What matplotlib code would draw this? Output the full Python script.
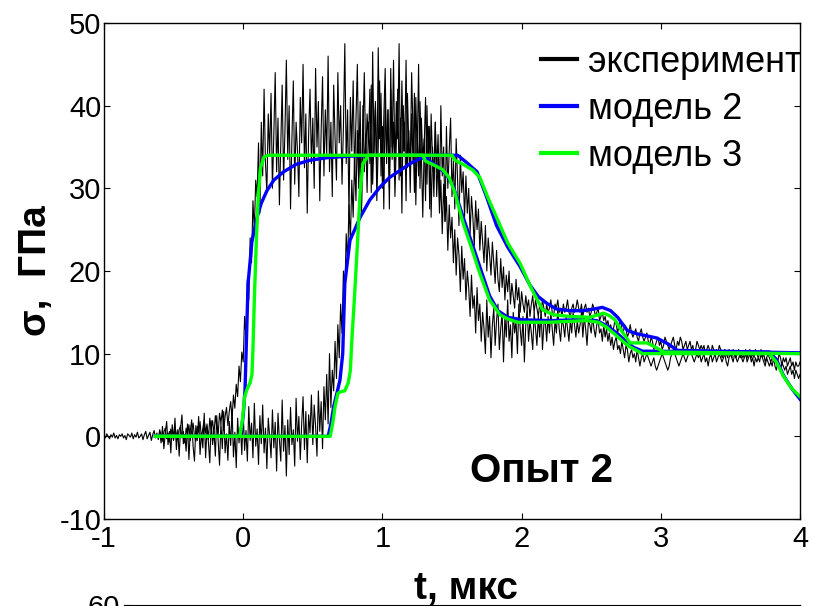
import numpy as np
import matplotlib.pyplot as plt

# ---- experiment (black), sampled every 0.01 us ----
dt = 0.01
exp1_start = -1.0
exp1 = [0.1, -0.2, 0.3, 0.0, -0.3, 0.2, -0.1, 0.4, -0.2, 0.1,
        -0.3, 0.2, 0.0, 0.3, -0.2, 0.1, -0.4, 0.3, 0.1, -0.1,
        0.4, -0.3, 0.2, -0.1, 0.5, -0.2, 0.0, 0.3, -0.4, 0.2,
        0.6, -0.3, 0.1, 0.5, -0.5, 0.2, 0.7, -0.2, 0.4, -0.4,
        0.8, 0.1, -0.6, 0.5, 1.0, -0.3, 0.4, -0.7, 0.9, 0.2,
        -0.5, 1.1, 0.3, -0.4, 0.8, 1.3, -0.2, 0.6, -0.8, 1.0,
        0.2, 1.4, -0.5, 0.7, 1.6, 0.0, -0.6, 1.2, 0.5, 1.8,
        -0.3, 1.0, 2.0, 0.4, 1.5, -0.4, 2.2, 0.8, 1.9, 0.3,
        2.5, 1.1, 0.2, 2.8, 1.6, 3.2, 0.7, 2.4, 3.5, 1.3,
        3.0, 4.2, 2.1, 5.0, 3.4, 6.3, 4.8, 8.5, 6.6, 10.2,
        9.0, 14.5, 12.0, 19.0, 16.5, 24.0, 21.0, 28.5, 25.0, 31.0,
        29.0, 35.5, 27.0, 38.0, 31.5, 42.0, 33.0, 29.5, 39.0, 34.0,
        41.5, 30.0, 36.5, 44.0, 32.0, 38.5, 28.0, 35.0, 42.5, 31.0,
        37.0, 45.5, 33.5, 40.0, 27.5, 36.0, 43.0, 30.5, 38.0, 34.5,
        29.0, 41.0, 35.5, 45.0, 32.5, 39.0, 27.0, 36.5, 42.0, 33.0,
        38.5, 30.0, 44.5, 35.0, 40.5, 28.5, 37.0, 43.5, 31.5, 39.5,
        34.0, 46.0, 32.0, 38.0, 29.0, 42.5, 36.0, 31.0, 44.0, 35.5,
        40.0, 30.5, 37.5, 47.5, 33.0, 39.5, 26.5, 41.0, 34.5, 43.0,
        31.5, 38.0, 45.0, 32.5, 40.5, 28.0, 36.5, 44.0, 33.5, 39.0,
        35.5, 42.0, 29.5, 46.5, 34.0, 40.0, 31.0, 47.0, 36.0, 41.5,
        30.0, 38.5, 44.5, 33.0, 39.5, 27.5, 42.0, 35.0, 45.5, 32.0,
        40.5, 36.0, 47.5, 31.5, 43.0, 34.5, 38.0, 28.5, 41.5, 35.0,
        32.5, 44.0, 37.0, 29.5, 41.0, 34.0, 45.0, 30.0, 38.5, 33.5,
        36.0, 28.5, 40.0, 33.0, 37.5, 26.5, 35.0, 31.0, 38.0, 29.0,
        33.5, 27.0, 31.0, 24.5, 30.5, 26.0, 29.0, 22.5, 28.0, 24.0,
        26.5, 21.0, 25.0, 19.5, 24.0, 22.0, 17.5, 23.0, 19.0, 21.5,
        16.5, 20.0, 18.0, 14.5, 19.5, 15.5, 17.0, 12.5, 18.0, 14.0,
        16.0, 11.5, 15.0, 13.0, 10.0, 16.5, 12.0, 14.5, 9.5, 13.5,
        15.5, 11.0, 14.0, 16.0, 10.5, 13.0, 15.0, 9.0, 14.5, 12.0,
        16.5, 11.5, 13.5, 9.5, 15.0, 12.5, 14.0, 10.0, 16.0, 13.0,
        11.0, 14.5, 9.0, 13.5, 15.5, 11.5, 14.0, 12.5, 10.5, 15.0,
        13.0, 11.0, 14.5, 12.0, 15.5, 10.5, 13.5, 14.0, 11.5, 14.5,
        12.5, 15.0, 13.0, 11.0, 14.0, 12.5, 15.5, 13.0, 11.5, 14.0,
        13.5, 12.0, 14.5, 13.0, 11.5, 14.0, 12.5, 15.0, 13.5, 12.0,
        14.0, 12.5, 13.5, 15.0, 12.0, 14.5, 13.0, 11.0, 14.0, 13.5,
        12.5, 14.5, 13.0, 12.0, 13.5, 14.0, 12.5, 13.0, 11.5, 13.5,
        12.0, 13.0, 11.5, 12.5, 11.0, 12.0, 10.5, 11.5, 12.0, 10.5,
        11.0, 10.0, 11.5, 10.5, 9.5, 11.0, 10.5, 9.0, 10.0, 10.5,
        9.5, 10.0, 9.0, 10.5, 9.5, 8.5, 9.5, 10.0, 9.0, 9.5,
        10.0, 9.5, 9.0, 8.5, 9.0, 9.5, 8.5, 8.0, 8.5, 9.0,
        9.5, 10.0, 9.5, 9.0, 8.5, 8.0, 8.5, 9.5, 10.0, 10.5,
        10.0, 9.5, 9.0, 8.5, 9.0, 9.5, 10.0, 9.5, 9.0, 9.5,
        10.0, 10.5, 10.0, 9.5, 9.0, 9.5, 10.0, 9.5, 10.0, 9.0,
        9.5, 10.0, 9.0, 9.5, 8.5, 9.5, 10.0, 9.0, 9.5, 10.0,
        9.0, 9.5, 10.0, 9.5, 9.0, 9.5, 10.0, 9.0, 8.5, 9.5,
        10.0, 9.5, 9.0, 10.0, 9.5, 9.0, 9.5, 10.0, 9.5, 9.0,
        9.5, 10.0, 9.0, 9.5, 10.0, 9.0, 9.5, 8.5, 9.5, 9.0,
        9.5, 9.0, 10.0, 9.5, 9.0, 8.5, 9.5, 9.0, 8.5, 9.0,
        8.5, 9.5, 8.5, 8.0, 9.0, 8.5, 8.0, 9.0, 8.5, 8.0,
        8.5, 7.5, 8.0, 8.5, 7.5, 8.0, 7.0, 8.0, 7.5, 7.0,
        7.5]

exp2_start = -0.6
exp2 = [0.5, -0.8, 1.2, -1.5, 0.3, 1.8, -1.0, 0.6, -2.0, 1.4,
        -0.4, 2.2, -1.6, 0.8, -2.4, 1.0, 2.6, -0.9, 0.2, -1.8,
        1.5, -2.8, 0.7, 2.0, -1.2, -3.0, 1.3, -0.5, 2.4, -2.2,
        0.4, -1.4, 2.8, -2.6, 1.1, -0.7, -3.2, 1.9, -1.0, 0.6,
        -2.4, 2.5, -0.6, -3.5, 1.6, -1.5, 3.0, -2.0, 0.3, -2.9,
        1.8, -1.1, 3.3, -2.5, 0.5, -3.8, 2.2, -0.8, 1.2, -2.2,
        2.9, -1.7, 0.7, -3.0, 3.6, -0.5, 1.6, -2.6, 4.0, -1.2,
        0.9, -3.4, 2.5, -0.9, 3.8, -2.0, 1.0, -3.9, 2.2, 0.0,
        -2.6, 3.2, -1.4, 1.7, -4.2, 2.8, -0.4, -3.0, 4.4, -1.8,
        1.3, -4.8, 2.0, -2.2, 3.5, -1.0, 0.8, -3.6, 4.6, -0.6,
        2.4, -2.8, 1.5, 4.8, -1.6, 3.0, -3.2, 2.6, 0.4, 5.0,
        -1.0, 3.8, 1.2, -2.4, 5.5, 0.6, 4.2, -1.5, 6.0, 2.0,
        7.5, 1.5, 10.0, 3.5, 8.0, 5.5, 11.5, 7.0, 13.5, 9.5,
        16.0, 12.5, 20.0, 17.0, 24.5, 21.0, 28.0, 23.5, 31.0, 26.5,
        33.5, 28.5, 37.0, 30.0, 35.5, 27.0, 40.0, 32.0, 36.5, 29.5,
        38.0, 33.0, 42.5, 30.5, 36.0, 40.5, 28.5, 35.0, 43.0, 31.5,
        37.5, 27.5, 41.0, 34.0, 39.5, 30.0, 44.5, 33.5, 38.0, 29.0,
        35.5, 42.0, 31.0, 38.5, 27.0, 40.0, 34.5, 45.5, 32.5, 37.0,
        29.5, 39.0, 33.0, 41.5, 28.0, 36.5, 31.5, 40.5, 34.0, 26.5,
        35.0, 41.0, 30.5, 37.5, 27.5, 39.0, 33.5, 29.0, 38.0, 32.0,
        36.5, 28.5, 40.0, 31.5, 35.0, 26.0, 37.5, 30.0, 34.5, 38.5,
        29.0, 33.5, 27.5, 36.0, 31.0, 25.5, 34.0, 29.5, 32.0, 26.5,
        31.5, 27.0, 30.0, 24.5, 29.0, 26.5, 23.0, 28.5, 25.0, 27.5,
        22.5, 26.0, 23.5, 21.0, 25.5, 20.0, 24.0, 22.0, 19.5, 23.5,
        21.0, 18.5, 22.5, 19.0, 17.5, 21.5, 18.0, 20.5, 16.5, 19.5,
        17.5, 20.0, 16.0, 18.5, 17.0, 15.5, 19.0, 16.5, 18.0, 15.0,
        17.5, 16.0, 15.0, 17.0, 15.5, 16.5, 14.5, 16.0, 17.0, 15.0,
        16.5, 15.5, 14.5, 16.0, 15.0, 16.5, 15.5, 14.5, 16.0, 15.0,
        15.5, 16.5, 15.0, 14.5, 16.0, 15.5, 16.5, 15.0, 15.5, 14.5,
        16.0, 15.0, 15.5, 16.5, 15.0, 14.5, 15.5, 16.0, 15.0, 15.5,
        16.5, 15.5, 15.0, 16.0, 14.5, 15.5, 16.0, 15.0, 15.5, 14.5,
        15.0, 16.0, 15.5, 14.5, 15.0, 15.5, 14.0, 14.5, 15.0, 14.0,
        14.5, 13.5, 14.0, 13.0, 13.5, 12.5, 13.0, 14.0, 13.5, 12.5,
        13.5, 14.0, 13.0, 12.5, 13.5, 13.0, 12.0, 12.5, 13.5, 12.5,
        12.0, 12.5, 13.0, 12.0, 11.5, 12.5, 13.0, 12.0, 11.5, 12.0,
        12.5, 11.5, 11.0, 12.0, 11.5, 10.5, 11.0, 11.5, 12.0, 11.0,
        11.5, 10.5, 11.0, 12.0, 11.5, 11.0, 10.5, 11.0, 11.5, 12.0,
        11.0, 10.5, 11.5, 11.0, 12.0, 11.5, 10.5, 11.0, 11.5, 10.5,
        11.0, 11.5, 10.5, 11.0, 10.0, 10.5, 11.5, 11.0, 10.5, 11.0,
        10.5, 11.0, 10.0, 10.5, 11.0, 10.5, 10.0, 11.0, 10.5, 10.0,
        10.5, 10.0, 11.0, 10.5, 9.5, 10.0, 10.5, 10.0, 9.5, 10.5,
        10.0, 9.5, 10.5, 10.0, 9.5, 10.0, 10.5, 9.5, 10.0, 9.5,
        10.0, 10.5, 9.5, 10.0, 10.5, 9.5, 10.0, 9.5, 10.5, 10.0,
        9.5, 10.0, 10.5, 9.5, 10.0, 9.0, 9.5, 10.0, 9.5, 9.0,
        9.5, 10.0, 9.0, 9.5, 9.0, 10.0, 9.5, 8.5, 9.5, 9.0,
        9.5, 8.5, 9.0, 9.5, 8.5, 9.0, 8.0, 9.0, 8.5, 8.5,
        9.0]

# ---- model 2 (blue) ----
m2a_t = [-0.63, -0.02, 0.0, 0.013, 0.035, 0.063, 0.098, 0.13, 0.17, 0.22, 0.29, 0.38,
         0.48, 0.6, 0.77, 1.0, 1.29, 1.33, 1.40, 1.46, 1.51, 1.58, 1.65, 1.70, 1.77,
         1.83, 1.9, 2.0, 2.2, 2.4, 2.54, 2.62, 2.69, 2.75, 2.8, 2.87, 3.78, 3.83,
         3.88, 3.94, 4.0]
m2a_s = [0, 0, 2.5, 5.6, 18.5, 23.6, 26.4, 28.2, 29.7, 31.0, 32.0, 32.9,
         33.4, 33.7, 33.9, 34.0, 34.0, 33.4, 32.6, 31.7, 30.2, 26.5, 23.0, 20.5, 17.0,
         15.2, 14.4, 14.1, 14.0, 14.1, 14.0, 13.3, 12.4, 11.5, 10.8, 10.3, 10.2, 9.3,
         7.4, 5.8, 4.5]
m2b_t = [-0.63, 0.61, 0.63, 0.65, 0.67, 0.695, 0.715, 0.73, 0.767, 0.84, 0.91, 0.98,
         1.05, 1.13, 1.2, 1.27, 1.35, 1.54, 1.6, 1.68, 1.75, 1.82, 1.9, 1.99, 2.06,
         2.12, 2.18, 2.25, 2.35, 2.44, 2.52, 2.58, 2.64, 2.69, 2.76, 2.83, 2.97,
         3.05, 3.12, 4.0]
m2b_s = [0, 0, 1.5, 3.6, 5.0, 6.8, 10.0, 18.5, 23.7, 26.5, 28.6, 30.1,
         31.3, 32.2, 33.0, 33.6, 34.0, 34.0, 33.2, 32.0, 28.9, 25.5, 22.9, 20.5, 18.3,
         16.9, 16.1, 15.4, 15.2, 15.2, 15.4, 15.6, 15.2, 14.4, 12.8, 12.4, 11.9,
         11.2, 10.4, 10.1]

# ---- model 3 (green) ----
m3a_t = [-0.63, -0.025, -0.005, 0.01, 0.03, 0.05, 0.063, 0.07, 0.08, 0.095, 0.11,
         0.125, 0.15, 0.18, 1.29, 1.31, 1.36, 1.43, 1.48, 1.52, 1.58, 1.65, 1.70,
         1.77, 1.845, 1.9, 1.97, 2.2, 2.47, 2.55, 2.61, 2.68, 2.74, 2.78, 2.87, 3.78,
         3.83, 3.88, 3.94, 4.0]
m3a_s = [0, 0, 2.0, 4.8, 5.8, 6.5, 7.5, 10.5, 16.5, 24.0, 29.5,
         32.5, 33.8, 34.0, 34.0, 33.3, 32.9, 32.3, 31.3, 29.5, 25.8, 22.3, 19.7,
         16.5, 14.7, 14.2, 13.8, 13.8, 14.0, 13.8, 13.2, 12.2, 11.3, 10.8, 10.0, 10.0,
         9.0, 7.3, 5.8, 4.8]
m3b_t = [-0.63, 0.625, 0.645, 0.66, 0.68, 0.70, 0.73, 0.755, 0.77, 0.78, 0.80, 0.82,
         0.84, 0.86, 0.9, 1.5, 1.52, 1.58, 1.65, 1.70, 1.76, 1.82, 1.9, 1.99, 2.07,
         2.15, 2.23, 2.35, 2.49, 2.55, 2.59, 2.63, 2.67, 2.72, 2.78, 2.9, 2.96, 3.02,
         4.0]
m3b_s = [0, 0, 1.8, 3.6, 5.2, 5.4, 5.5, 6.5, 8.0, 11.5, 17.0, 23.0,
         29.5, 33.0, 34.0, 34.0, 33.4, 32.9, 32.2, 31.3, 28.8, 26.5, 23.4, 20.9, 17.9,
         15.3, 14.7, 14.5, 14.4, 14.7, 14.9, 14.6, 14.1, 12.7, 11.3, 11.3, 10.8, 10.2,
         10.0]

labels = ['эксперимент', 'модель 2', 'модель 3']
x_ticks = [-1, 0, 1, 2, 3, 4]
y_ticks = [-10, 0, 10, 20, 30, 40, 50]

plt.rcParams['font.family'] = ['Liberation Sans', 'DejaVu Sans']
plt.rcParams['axes.unicode_minus'] = False  # plain hyphen like the original

W, H = 813, 606
fig = plt.figure(figsize=(W / 100, H / 100), dpi=100)
ax = fig.add_axes([104 / W, 1 - 519 / H, 696 / W, 496 / H])

t1 = exp1_start + dt * np.arange(len(exp1))
t2 = exp2_start + dt * np.arange(len(exp2))
ax.plot(t1, exp1, color='black', lw=0.8, label=labels[0])
ax.plot(t2, exp2, color='black', lw=0.8)
ax.plot(m2a_t, m2a_s, color='#0000ff', lw=2.4, label=labels[1])
ax.plot(m2b_t, m2b_s, color='#0000ff', lw=2.4)
ax.plot(m3a_t, m3a_s, color='#00ff00', lw=2.4, label=labels[2])
ax.plot(m3b_t, m3b_s, color='#00ff00', lw=2.4)

ax.set_xlim(-1, 4)
ax.set_ylim(-10, 50)
ax.set_xticks(x_ticks)
ax.set_yticks(y_ticks)
ax.tick_params(direction='in', length=4, width=0.8, labelsize=21,
               top=True, right=True)
ax.tick_params(axis='x', pad=4)
ax.tick_params(axis='y', pad=2)
for s in ax.spines.values():
    s.set_linewidth(1.0)

ax.set_xlabel('t, мкс', fontsize=28, fontweight='bold', labelpad=13)
ax.xaxis.label.set_x(0.52)
ax.set_ylabel('σ,  ГПа', fontsize=28, fontweight='bold', labelpad=4)

ax.text(2.14, -5.5, 'Опыт 2', fontsize=29, fontweight='bold',
        ha='center', va='baseline')

leg = ax.legend(loc='upper left', bbox_to_anchor=(541 / W, 1 - 45 / H),
                bbox_transform=fig.transFigure, frameon=False, fontsize=26,
                borderpad=0, borderaxespad=0, handlelength=1.0,
                handletextpad=0.3, labelspacing=0.33)
for line in leg.get_lines():
    line.set_linewidth(3)

# top edge of the next panel below
ax2 = fig.add_axes([124 / W, 1 / H - 0.5, 676 / W, 0.5])
ax2.set_xlim(-1, 4)
ax2.set_ylim(0, 60)
ax2.set_xticks([])
ax2.set_yticks([60])
ax2.tick_params(direction='in', length=4, labelsize=21, pad=3)
ax2.patch.set_alpha(0)

fig.savefig('out.png', dpi=100)
